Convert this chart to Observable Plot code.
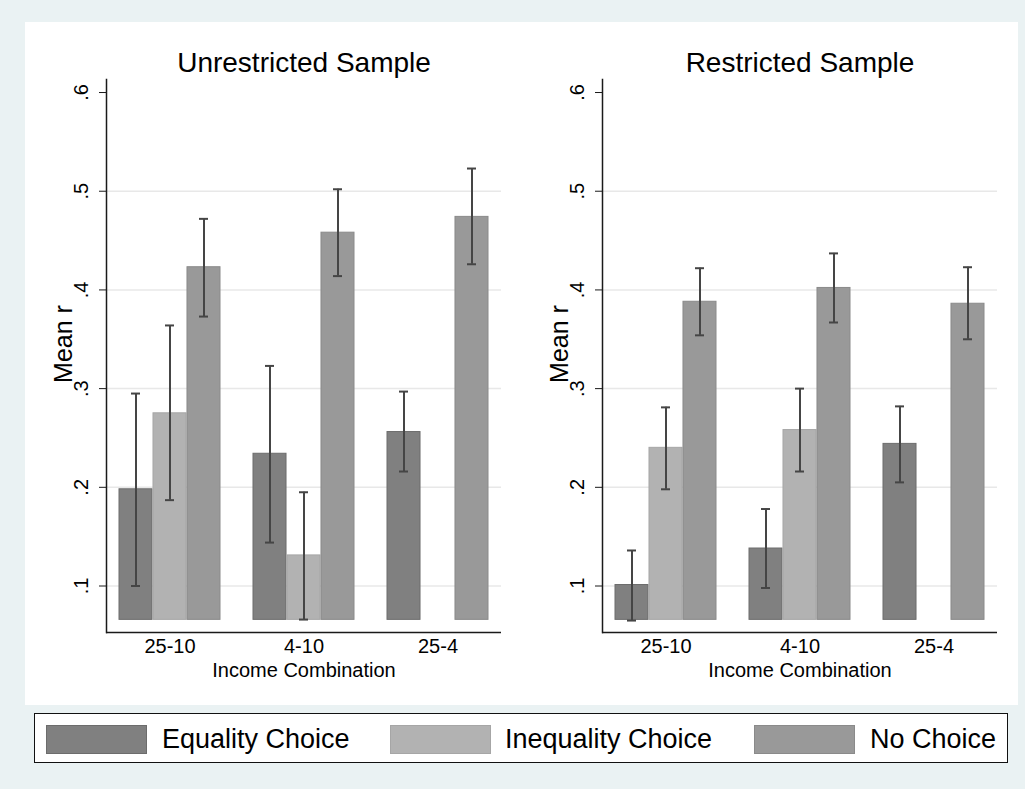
<!DOCTYPE html>
<html>
<head>
<meta charset="utf-8">
<script src="https://cdn.jsdelivr.net/npm/d3@7"></script>
<script src="https://cdn.jsdelivr.net/npm/@observablehq/plot@0.6"></script>
<style>
  html, body { margin: 0; padding: 0; background: #EAF2F3; }
  #root { position: relative; width: 1025px; height: 789px; background: #EAF2F3; font-family: "Liberation Sans", Arial, Helvetica, sans-serif; overflow: hidden; }
  #inner { position: absolute; left: 25px; top: 22px; width: 993px; height: 683px; background: #ffffff; }
  .panel { position: absolute; top: 22px; }
  #legend { position: absolute; left: 34px; top: 713px; width: 972px; height: 48px; border: 1.5px solid #111; background: #fff; }
  .sw { position: absolute; top: 725px; width: 99px; height: 27px; box-sizing: content-box; }
  .lt { position: absolute; top: 726px; font-size: 27px; line-height: 27px; color: #000; white-space: nowrap; }
</style>
</head>
<body>
<div id="root">
  <div id="inner"></div>
  <div id="p1" class="panel" style="left:25px"></div>
  <div id="p2" class="panel" style="left:521px"></div>
  <div id="legend"></div>
</div>
<script>
// ---- data ----
const groups = ["25-10", "4-10", "25-4"];
const seriesNames = ["Equality Choice", "Inequality Choice", "No Choice"];
const seriesColors = ["#808080", "#b2b2b2", "#999999"];
const seriesStrokes = ["#6c6c6c", "#a6a6a6", "#8a8a8a"];
const panelTitles = ["Unrestricted Sample", "Restricted Sample"];
const yTicks = [0.1, 0.2, 0.3, 0.4, 0.5, 0.6];
const gridTicks = [0.1, 0.2, 0.3, 0.4, 0.5];
const yLabel = "Mean r";
const xLabel = "Income Combination";
const barBase = 0.0657;
const yDomain = [0.0529, 0.6132];

// rows: series (Equality, Inequality, No Choice); columns: groups
const unrestrictedMean = [[0.198, 0.234, 0.256], [0.275, 0.131, null], [0.423, 0.458, 0.474]];
const unrestrictedLow  = [[0.100, 0.144, 0.216], [0.187, 0.066, null], [0.373, 0.414, 0.426]];
const unrestrictedHigh = [[0.295, 0.323, 0.297], [0.364, 0.195, null], [0.472, 0.502, 0.523]];

const restrictedMean = [[0.101, 0.138, 0.244], [0.240, 0.258, null], [0.388, 0.402, 0.386]];
const restrictedLow  = [[0.065, 0.098, 0.205], [0.198, 0.216, null], [0.354, 0.367, 0.350]];
const restrictedHigh = [[0.136, 0.178, 0.282], [0.281, 0.300, null], [0.422, 0.437, 0.423]];

const FONT = '"Liberation Sans", Arial, Helvetica, sans-serif';

function makePanel(title, mean, lo, hi) {
  const rows = [];
  groups.forEach((g, i) => seriesNames.forEach((s, j) => {
    if (mean[j][i] != null) rows.push({group: g, series: s, j, mean: mean[j][i], lo: lo[j][i], hi: hi[j][i]});
  }));
  const W = 490, H = 660, mL = 81, mR = 14, mT = 57, mB = 50;
  const pIn = 0.243, pOut = 0.0876;
  const step = (W - mL - mR) / (groups.length - pIn + 2 * pOut);
  const bw = step * (1 - pIn);
  const sub = bw / seriesNames.length;
  const capHalf = 5;

  const marks = [Plot.ruleY(gridTicks, {stroke: "#e8e8e8", strokeWidth: 1.5})];
  seriesNames.forEach((s, j) => {
    const d = rows.filter(r => r.j === j);
    marks.push(Plot.barY(d, {
      x: "group", y1: barBase, y2: "mean",
      fill: seriesColors[j], stroke: seriesStrokes[j], strokeWidth: 1,
      insetLeft: j * sub, insetRight: (seriesNames.length - 1 - j) * sub
    }));
  });
  seriesNames.forEach((s, j) => {
    const d = rows.filter(r => r.j === j);
    const c = (j + 0.5) * sub;
    marks.push(Plot.ruleX(d, {x: "group", y1: "lo", y2: "hi", dx: c - bw / 2, stroke: "#454545", strokeWidth: 2}));
    marks.push(Plot.tickY(d, {x: "group", y: "lo", insetLeft: c - capHalf, insetRight: bw - c - capHalf, stroke: "#454545", strokeWidth: 2}));
    marks.push(Plot.tickY(d, {x: "group", y: "hi", insetLeft: c - capHalf, insetRight: bw - c - capHalf, stroke: "#454545", strokeWidth: 2}));
  });
  marks.push(Plot.ruleY([yDomain[0]], {stroke: "#1a1a1a", strokeWidth: 1.5}));
  marks.push(Plot.frame({anchor: "left", stroke: "#1a1a1a", strokeWidth: 1.5}));
  marks.push(Plot.axisY(yTicks, {
    tickFormat: d => d3.format(".1f")(d).replace(/^0/, ""),
    tickRotate: -90, tickSize: 7, tickPadding: 12, fontSize: 20, label: null, stroke: "#1a1a1a"
  }));
  marks.push(Plot.axisX({tickSize: 0, tickPadding: 6, fontSize: 20, label: xLabel, labelAnchor: "center", labelOffset: 44}));
  marks.push(Plot.text([yLabel], {text: d => d, frameAnchor: "left", textAnchor: "middle", rotate: -90, dx: -43, dy: -12, fontSize: 25, fill: "#000"}));
  marks.push(Plot.text([title], {text: d => d, frameAnchor: "top", lineAnchor: "bottom", dy: -8, fontSize: 28, fill: "#000"}));

  return Plot.plot({
    width: W, height: H,
    marginLeft: mL, marginRight: mR, marginTop: mT, marginBottom: mB,
    style: {fontFamily: FONT, fontSize: "20px", color: "#000", background: "transparent", overflow: "visible"},
    x: {type: "band", domain: groups, paddingInner: pIn, paddingOuter: pOut, label: null},
    y: {domain: yDomain, label: null},
    marks
  });
}

document.getElementById("p1").appendChild(makePanel(panelTitles[0], unrestrictedMean, unrestrictedLow, unrestrictedHigh));
document.getElementById("p2").appendChild(makePanel(panelTitles[1], restrictedMean, restrictedLow, restrictedHigh));

// legend
const legendSwatchX = [46, 390, 754];
const legendTextX = [162, 505, 870];
const root = document.getElementById("root");
seriesNames.forEach((s, j) => {
  const sw = document.createElement("div");
  sw.className = "sw";
  sw.style.left = legendSwatchX[j] + "px";
  sw.style.background = seriesColors[j];
  sw.style.border = "1px solid " + seriesStrokes[j];
  root.appendChild(sw);
  const t = document.createElement("div");
  t.className = "lt";
  t.style.left = legendTextX[j] + "px";
  t.textContent = s;
  root.appendChild(t);
});
</script>
</body>
</html>
